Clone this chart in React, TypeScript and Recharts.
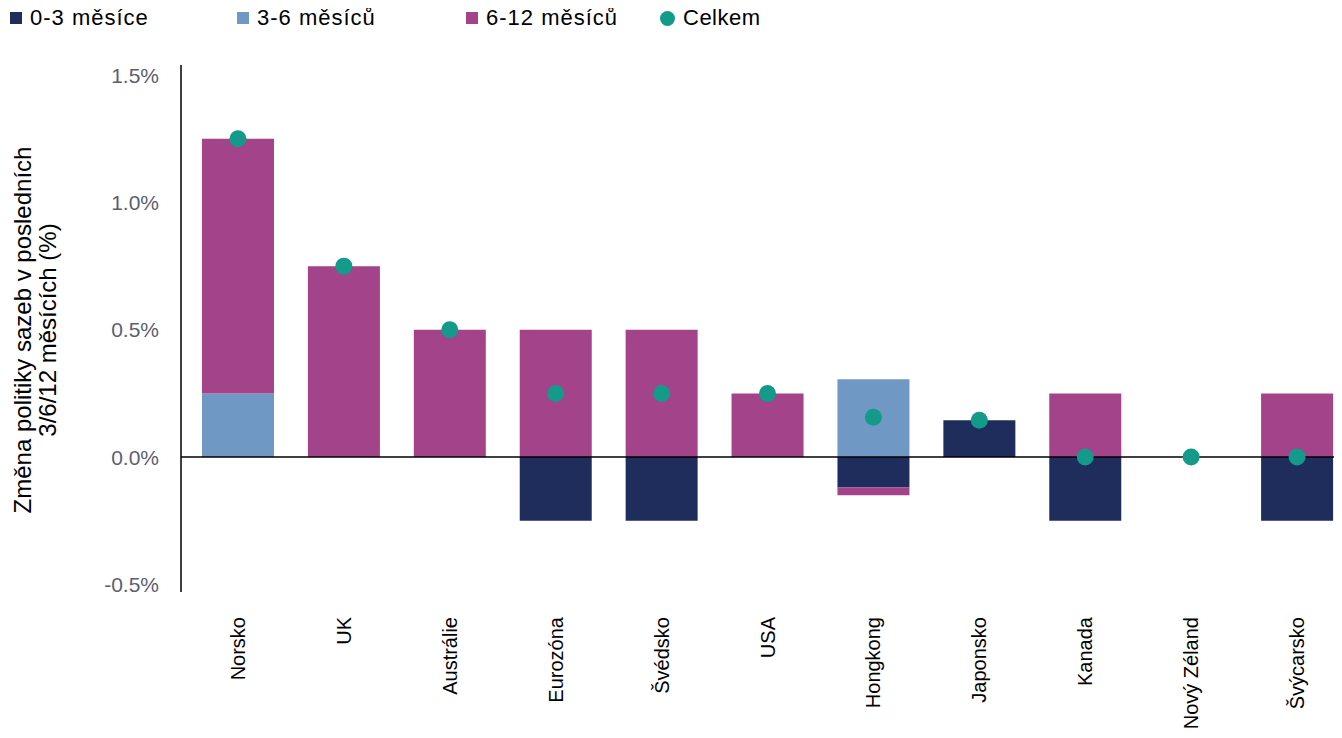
import React from "react";
import { ComposedChart, Bar, Line, XAxis, YAxis, ReferenceLine } from "recharts";

const categories = ["Norsko", "UK", "Austrálie", "Eurozóna", "Švédsko", "USA", "Hongkong", "Japonsko", "Kanada", "Nový Zéland", "Švýcarsko"];
const m0_3 = [0, 0, 0, -0.25, -0.25, 0, -0.12, 0.145, -0.25, 0, -0.25];
const m3_6 = [0.25, 0, 0, 0, 0, 0, 0.306, 0, 0, 0, 0];
const m6_12 = [1.0, 0.75, 0.5, 0.5, 0.5, 0.25, -0.03, 0, 0.25, 0, 0.25];
const celkem = [1.25, 0.75, 0.5, 0.25, 0.25, 0.25, 0.156, 0.145, 0, 0, 0];
const yTicks = [-0.5, 0, 0.5, 1, 1.5];

const COLORS = { a: "#1f2d5c", b: "#7098c5", c: "#a34389", d: "#139a8a" };

const data = categories.map((c, i) => ({ name: c, a: m0_3[i], b: m3_6[i], c: m6_12[i], d: celkem[i] }));

const FONT = "'Liberation Sans', Arial, sans-serif";

const XTick = (props: any) => {
  const { x, y, payload } = props;
  const tx = x + 7;
  const ty = y + 17;
  return (
    <text x={tx} y={ty} transform={`rotate(-90 ${tx} ${ty})`} textAnchor="end" fontSize={20} fill="#000" fontFamily={FONT}>
      {payload.value}
    </text>
  );
};

const YTick = (props: any) => {
  const { x, y, payload } = props;
  return (
    <text x={x} y={y + 7.5} textAnchor="end" fontSize={21} fill="#5b5f70" fontFamily={FONT}>
      {payload.value.toFixed(1) + "%"}
    </text>
  );
};

const legendItems = [
  { label: "0-3 měsíce", color: COLORS.a, x: 10, shape: "sq" },
  { label: "3-6 měsíců", color: COLORS.b, x: 237, shape: "sq" },
  { label: "6-12 měsíců", color: COLORS.c, x: 466, shape: "sq" },
  { label: "Celkem", color: COLORS.d, x: 660, shape: "dot" },
];

export default function App() {
  return (
    <div style={{ position: "relative", width: 1342, height: 738, margin: -8, overflow: "hidden", fontFamily: FONT }}>
      {legendItems.map((it) => (
        <div key={it.label} style={{ position: "absolute", left: it.x, top: 4, height: 28, display: "flex", alignItems: "center", fontSize: 22, letterSpacing: it.shape === "sq" ? 1 : 0.5, color: "#000" }}>
          <span style={{ display: "inline-block", width: it.shape === "sq" ? 12 : 15, height: it.shape === "sq" ? 12 : 15, borderRadius: it.shape === "sq" ? 0 : 8, background: it.color, marginRight: 8 }} />
          <span>{it.label}</span>
        </div>
      ))}
      <div style={{ position: "absolute", left: 0, top: 0 }}>
        <ComposedChart width={1350} height={738} data={data} stackOffset="sign" margin={{ top: 65, right: 0, bottom: 0, left: 0 }}>
          <XAxis dataKey="name" axisLine={false} tickLine={false} tick={<XTick />} interval={0} padding={{ left: 4, right: 0 }} height={146} />
          <YAxis
            domain={[-0.53, 1.54]}
            ticks={yTicks}
            width={181}
            tickLine={false}
            axisLine={{ stroke: "#000", strokeWidth: 1.5 }}
            tick={<YTick />}
            tickMargin={16}
            interval={0}
          />
          <Bar dataKey="a" stackId="s" fill={COLORS.a} barSize={72} isAnimationActive={false} />
          <Bar dataKey="b" stackId="s" fill={COLORS.b} barSize={72} isAnimationActive={false} />
          <Bar dataKey="c" stackId="s" fill={COLORS.c} barSize={72} isAnimationActive={false} />
          <ReferenceLine y={0} stroke="#000" strokeWidth={1.5} />
          <Line dataKey="d" stroke="none" dot={{ r: 8.5, fill: COLORS.d, stroke: "none" }} activeDot={false} isAnimationActive={false} />
        </ComposedChart>
      </div>
      <div style={{ position: "absolute", left: 35, top: 330, transform: "translate(-50%, -50%) rotate(-90deg)", whiteSpace: "nowrap", textAlign: "center", fontSize: 24, lineHeight: "25px", color: "#000" }}>
        Změna politiky sazeb v posledních
        <br />
        3/6/12 měsících (%)
      </div>
    </div>
  );
}
